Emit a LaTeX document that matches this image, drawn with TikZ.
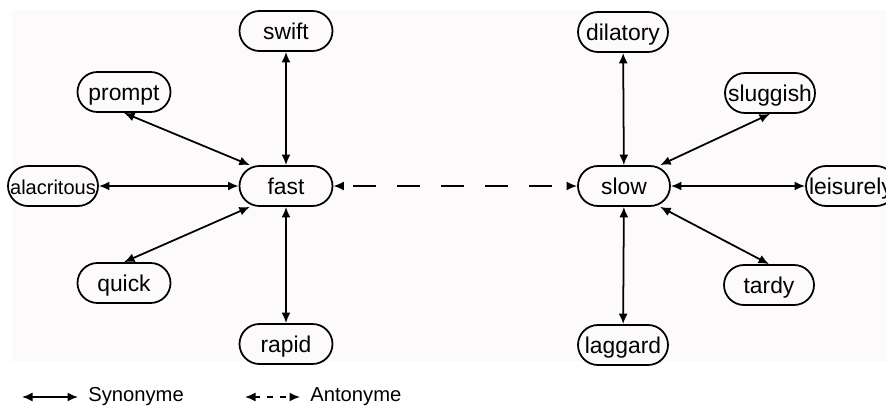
\documentclass[tikz,border=0pt]{standalone}
\usepackage{fontspec}
\setmainfont{Liberation Sans}
\usetikzlibrary{arrows.meta}
\definecolor{bgpink}{RGB}{253,250,252}
\tikzset{
  word/.style={draw, line width=1pt, rounded corners=0.4cm, minimum width=1.8cm,
    minimum height=0.8cm, inner xsep=1pt, text height=11pt, text depth=1.5pt,
    font=\fontsize{13}{15}\selectfont},
  syn/.style={line width=1pt, {Latex[length=0.21cm,width=0.18cm]}-{Latex[length=0.21cm,width=0.18cm]}},
  ant/.style={syn, dash pattern=on 0.46cm off 0.42cm, dash phase=-0.2cm},
  legendtext/.style={anchor=west, inner sep=0pt, font=\fontsize{11.5}{13}\selectfont}
}

\begin{document}
\begin{tikzpicture}
            \useasboundingbox (0,0) rectangle (17.72,8.14);
            \fill[bgpink] (0.24,0.9) rectangle (17.72,7.94);
            % fast side
            \node[word, minimum width=1.86cm] (fast) at (5.72,4.42) {fast};
            \node[word, minimum width=1.86cm] (swift) at (5.72,7.52) {swift};
            \node[word, minimum width=1.86cm] (prompt) at (2.48,6.3) {prompt};
            \node[word, font=\fontsize{11.4}{13}\selectfont] (alacritous) at (1.06,4.42) {alacritous};
            \node[word, minimum width=1.86cm] (quick) at (2.48,2.48) {quick};
            \node[word, minimum width=1.86cm] (rapid) at (5.72,1.26) {rapid};
            % slow side
            \node[word, minimum width=1.84cm] (slow) at (12.48,4.42) {slow};
            \node[word] (dilatory) at (12.46,7.5) {dilatory};
            \node[word] (sluggish) at (15.4,6.28) {sluggish};
            \node[word] (leisurely) at (17.02,4.42) {leisurely};
            \node[word] (tardy) at (15.38,2.44) {tardy};
            \node[word] (laggard) at (12.46,1.24) {laggard};
            \draw[syn] (fast) -- (swift);
            \draw[syn] (fast.150) -- (prompt.south);
            \draw[syn] (fast) -- (alacritous);
            \draw[syn] (fast.210) -- (quick.north);
            \draw[syn] (fast) -- (rapid);
            \draw[syn] (slow) -- (dilatory);
            \draw[syn] (slow.30) -- (sluggish.south);
            \draw[syn] (slow) -- (leisurely);
            \draw[syn] (slow.-30) -- (tardy.north);
            \draw[syn] (slow) -- (laggard);
            \draw[ant] (fast) -- (slow);
            % legend
            \coordinate (synA) at (0.44,0.2);
            \coordinate (synB) at (1.56,0.2);
            \coordinate (antA) at (4.9,0.2);
            \coordinate (antB) at (6.0,0.2);
            \draw[syn] (synA) -- (synB);
            \node[legendtext] (synlabel) at (1.76,0.2) {Synonyme};
            \draw[syn, dash pattern=on 0.12cm off 0.14cm, dash phase=0.02cm] (antA) -- (antB);
            \node[legendtext] (antlabel) at (6.2,0.2) {Antonyme};
        \end{tikzpicture}
\end{document}
